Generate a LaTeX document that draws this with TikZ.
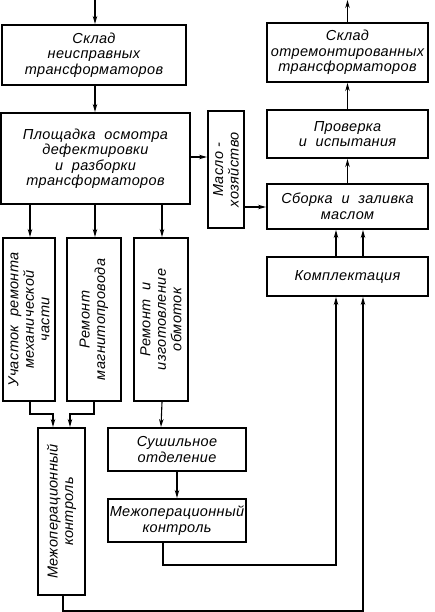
\documentclass[tikz,border=0pt]{standalone}
\usepackage{fontspec}
\setmainfont[LetterSpace=2.5]{Liberation Sans}
\usepackage{tikz}
\usetikzlibrary{arrows.meta}

\begin{document}
\begin{tikzpicture}[x=1pt, y=-1pt, every node/.style = {shape=rectangle, draw, line width=2pt, align=center,
    inner sep=0pt, font=\fontsize{14.5}{15.5}\selectfont\itshape},
    arr/.style = {line width=1.1pt, -{Stealth[length=8pt,width=4.5pt]}}]
\useasboundingbox (0,0) rectangle (434,612);
\coordinate (in) at (95,0);
\coordinate (out) at (347.5,0);
\node (sklad) [minimum width=184, minimum height=60] at (94,55) {Склад\\ неисправных\\ трансформаторов};
\node (plosh) [minimum width=189, minimum height=91] at (95.5,158.5) {Площадка \ осмотра\\ дефектировки\\ и \ разборки\\ трансформаторов};
\node (maslo) [rotate=90, minimum width=117, minimum height=36] at (226,169.5) {Масло -\\ хозяйство};
\node (mech) [rotate=90, minimum width=163, minimum height=52] at (29,319.5) {Участок \ ремонта\\ механической\\ части};
\node (magn) [rotate=90, minimum width=163, minimum height=54] at (94,319.5) {Ремонт\\ магнитопровода};
\node (obm) [rotate=90, minimum width=163, minimum height=54] at (161,319.5) {Ремонт \ и\\ изготовление\\ обмоток};
\node (kontrA) [rotate=90, minimum width=167, minimum height=47] at (61.5,511.5) {Межоперационный\\ контроль};
\node (sush) [minimum width=138, minimum height=43] at (177,449.5) {Сушильное\\ отделение};
\node (kontrB) [minimum width=138, minimum height=43] at (177,520.5) {Межоперационный\\ контроль};
\node (gotov) [minimum width=161, minimum height=59] at (347.5,52.5) {Склад\\ отремонтированных\\ трансформаторов};
\node (prov) [minimum width=161, minimum height=48] at (347.5,134) {Проверка\\ и \ испытания};
\node (sborka) [minimum width=161, minimum height=45] at (347.5,206.5) {Сборка \ и \ заливка\\ маслом};
\node (kompl) [minimum width=161, minimum height=39] at (347.5,276.5) {Комплектация};
\draw[arr] (in) -- (in |- sklad.north);
\draw[arr] (sklad.south -| in) -- (plosh.north -| in);
\draw[arr] (plosh.east |- 0,157) -- (maslo.north |- 0,157);
\draw[arr] ([xshift=1pt]mech.east |- plosh.south) -- ([xshift=1pt]mech.east);
\draw[arr] ([xshift=1pt]magn.east |- plosh.south) -- ([xshift=1pt]magn.east);
\draw[arr] ([xshift=1pt]obm.east |- plosh.south) -- ([xshift=1pt]obm.east);
\draw[arr] ([xshift=1pt]mech.west) -- ++(0,12) -| ([xshift=-8.5pt]kontrA.east);
\draw[arr] (magn.west) -- ++(0,12) -| ([xshift=8.5pt]kontrA.east);
\draw[arr] ([xshift=1pt]obm.west) -- (sush.north -| obm.west);
\draw[arr] (sush) -- (kontrB);
\draw[arr] ([xshift=-14pt]kontrB.south) -- ++(0,22) -| ([xshift=-11.5pt]kompl.south);
\draw[arr] ([xshift=1.5pt]kontrA.west) -- ++(0,15) -| ([xshift=15.5pt]kompl.south);
\draw[arr] ([xshift=-11.5pt]kompl.north) -- ([xshift=-11.5pt]sborka.south);
\draw[arr] ([xshift=15.5pt]kompl.north) -- ([xshift=15.5pt]sborka.south);
\draw[arr] (maslo.south |- 0,207) -- (sborka.west |- 0,207);
\draw[arr] (sborka) -- (prov);
\draw[arr] (prov) -- (gotov);
\draw[arr] (gotov) -- (out);
\end{tikzpicture}
\end{document}
